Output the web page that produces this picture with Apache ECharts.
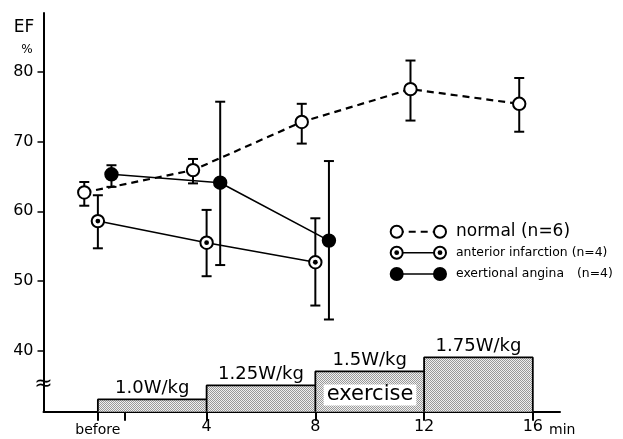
<!DOCTYPE html>
<html><head><meta charset="utf-8">
<script src="https://cdn.jsdelivr.net/npm/echarts@6/dist/echarts.min.js"></script>
<style>html,body{margin:0;padding:0;background:#fff}#c{width:623px;height:439px}</style>
</head><body><div id="c"></div>
<script>
// ---- data ----
const tickValues = [0, 4, 8, 12, 16];
const tickLabels = ['before', '4', '8', '12', '16'];
const minorTicks = [1];
const yTicks = [40, 50, 60, 70, 80];

const normalX = [-0.5, 3.5, 7.5, 11.5, 15.5];
const normalMean = [62.7, 65.9, 72.8, 77.5, 75.4];
const normalLow = [60.8, 64.0, 69.7, 73.0, 71.4];
const normalHigh = [64.2, 67.5, 75.4, 81.6, 79.1];

const anteriorX = [0, 4, 8];
const anteriorMean = [58.6, 55.5, 52.7];
const anteriorLow = [54.7, 50.7, 46.5];
const anteriorHigh = [62.3, 60.2, 59.0];

const anginaX = [0.5, 4.5, 8.5];
const anginaMean = [65.3, 64.1, 55.8];
const anginaLow = [63.5, 52.3, 44.5];
const anginaHigh = [66.6, 75.7, 67.2];

const stageStart = [0, 4, 8, 12];
const stageEnd = [4, 8, 12, 16];
const stagePower = [1.0, 1.25, 1.5, 1.75];
const stageLabels = ['1.0W/kg', '1.25W/kg', '1.5W/kg', '1.75W/kg'];

// ---- build ----
const FONT = 'DejaVu Sans';
const POWER_MIN = 0.78, POWER_MAX = 7.9;

function rows(x, m, lo, hi) { return x.map((v, i) => [v, m[i], lo[i], hi[i]]); }
function pts(x, m) { return x.map((v, i) => [v, m[i]]); }

const stepData = [[stageStart[0], POWER_MIN]];
stageStart.forEach((s, i) => {
  stepData.push([s, stagePower[i]]);
  stepData.push([stageEnd[i], stagePower[i]]);
  stepData.push([stageEnd[i], POWER_MIN]);
});
const stageMid = stageStart.map((s, i) => [(s + stageEnd[i]) / 2, stagePower[i]]);

const pc = document.createElement('canvas');
pc.width = 2; pc.height = 2;
const pctx = pc.getContext('2d');
pctx.fillStyle = '#f0f0f0'; pctx.fillRect(0, 0, 2, 2);
pctx.fillStyle = '#999999'; pctx.fillRect(0, 0, 1, 1); pctx.fillRect(1, 1, 1, 1);

function makeErr(kind) {
  return function (params, api) {
    const x = api.value(0), m = api.value(1), lo = api.value(2), hi = api.value(3);
    const pm = api.coord([x, m]), pl = api.coord([x, lo]), ph = api.coord([x, hi]);
    const cw = 5;
    const st = { stroke: '#000', lineWidth: 2 };
    const ch = [
      { type: 'line', shape: { x1: pl[0], y1: pl[1], x2: ph[0], y2: ph[1] }, style: st },
      { type: 'line', shape: { x1: pl[0] - cw, y1: pl[1], x2: pl[0] + cw, y2: pl[1] }, style: st },
      { type: 'line', shape: { x1: ph[0] - cw, y1: ph[1], x2: ph[0] + cw, y2: ph[1] }, style: st },
      { type: 'circle', shape: { cx: pm[0], cy: pm[1], r: 6.2 }, style: { fill: kind === 'angina' ? '#000' : '#fff', stroke: '#000', lineWidth: 2 } }
    ];
    if (kind === 'anterior') ch.push({ type: 'circle', shape: { cx: pm[0], cy: pm[1], r: 2.4 }, style: { fill: '#000' } });
    return { type: 'group', children: ch };
  };
}

const chart = echarts.init(document.getElementById('c'), null, { renderer: 'canvas' });

function legendRow(y, kind, dashed) {
  const a = 396.7, b = 440;
  const fill = kind === 'angina' ? '#000' : '#fff';
  const els = [
    { type: 'line', shape: { x1: a, y1: y, x2: b, y2: y }, style: { stroke: '#000', lineWidth: dashed ? 2 : 1.5, lineDash: dashed ? [7, 5] : null } },
    { type: 'circle', shape: { cx: a, cy: y, r: 6 }, style: { fill, stroke: '#000', lineWidth: 2 } },
    { type: 'circle', shape: { cx: b, cy: y, r: 6 }, style: { fill, stroke: '#000', lineWidth: 2 } }
  ];
  if (kind === 'anterior') {
    els.push({ type: 'circle', shape: { cx: a, cy: y, r: 2.4 }, style: { fill: '#000' } });
    els.push({ type: 'circle', shape: { cx: b, cy: y, r: 2.4 }, style: { fill: '#000' } });
  }
  return els;
}

const option = {
  animation: false,
  backgroundColor: '#fff',
  grid: { left: 43.5, right: 63, top: 13, bottom: 27.3 },
  xAxis: {
    type: 'value', min: -2, max: 17,
    axisLine: { onZero: false, lineStyle: { color: '#000', width: 2 } },
    splitLine: { show: false },
    axisTick: { customValues: tickValues.concat(minorTicks), length: 9, lineStyle: { color: '#000', width: 2 } },
    axisLabel: {
      customValues: tickValues, margin: 7, color: '#000', fontFamily: FONT, fontSize: 16,
      formatter: v => { const i = tickValues.indexOf(v); return i === 0 ? '{b|' + tickLabels[i] + '}' : tickLabels[i]; },
      rich: { b: { fontSize: 14, fontFamily: FONT, color: '#000', padding: [5, 0, 0, 0] } }
    }
  },
  yAxis: [{
    type: 'value', min: 31.29, max: 88.41,
    axisLine: { show: true, onZero: false, lineStyle: { color: '#000', width: 2 } },
    splitLine: { show: false },
    axisTick: { show: true, customValues: yTicks, length: 6, lineStyle: { color: '#000', width: 1.5 } },
    axisLabel: { customValues: yTicks, margin: 10, color: '#000', fontFamily: FONT, fontSize: 16 }
  }, {
    type: 'value', min: POWER_MIN, max: POWER_MAX, show: false
  }],
  series: [
    {
      type: 'line', yAxisIndex: 1, data: stepData, symbol: 'none', z: 1,
      lineStyle: { color: '#000', width: 1.8 },
      areaStyle: { color: { image: pc, repeat: 'repeat' }, opacity: 1, origin: 'start' }
    },
    {
      type: 'scatter', yAxisIndex: 1, data: stageMid, symbolSize: 0, z: 2,
      itemStyle: { opacity: 1 },
      label: { show: true, position: 'top', distance: 2, color: '#000', opacity: 1, fontFamily: FONT, fontSize: 18,
        formatter: p => stageLabels[p.dataIndex] }
    },
    { type: 'line', data: pts(normalX, normalMean), symbol: 'none', z: 3, lineStyle: { color: '#000', width: 2.2, type: [7, 5] } },
    { type: 'line', data: pts(anteriorX, anteriorMean), symbol: 'none', z: 3, lineStyle: { color: '#000', width: 1.6 } },
    { type: 'line', data: pts(anginaX, anginaMean), symbol: 'none', z: 3, lineStyle: { color: '#000', width: 1.6 } },
    { type: 'custom', data: rows(normalX, normalMean, normalLow, normalHigh), renderItem: makeErr('normal'), z: 4 },
    { type: 'custom', data: rows(anteriorX, anteriorMean, anteriorLow, anteriorHigh), renderItem: makeErr('anterior'), z: 4 },
    { type: 'custom', data: rows(anginaX, anginaMean, anginaLow, anginaHigh), renderItem: makeErr('angina'), z: 4 }
  ],
  graphic: [
    { type: 'text', x: 24, y: 27.5, style: { text: 'EF', fontFamily: FONT, fontSize: 17, fill: '#000', align: 'center', verticalAlign: 'middle' } },
    { type: 'text', x: 27, y: 50, style: { text: '%', fontFamily: FONT, fontSize: 12, fill: '#000', align: 'center', verticalAlign: 'middle' } },
    { type: 'text', x: 43.5, y: 384, z: 10, style: { text: '≈', fontFamily: FONT, fontSize: 22, fill: '#000', align: 'center', verticalAlign: 'middle' } },
    { type: 'text', x: 549, y: 430, style: { text: 'min', fontFamily: FONT, fontSize: 14, fill: '#000', align: 'left', verticalAlign: 'middle' } },
    { type: 'text', x: 370, y: 395, z: 10, style: { text: 'exercise', fontFamily: FONT, fontSize: 21, fill: '#000', align: 'center', verticalAlign: 'middle', backgroundColor: '#fff', padding: [0, 3, 0, 3] } },
    ...legendRow(231.7, 'normal', true),
    ...legendRow(252.7, 'anterior', false),
    ...legendRow(274, 'angina', false),
    { type: 'text', x: 456, y: 231.7, style: { text: 'normal (n=6)', fontFamily: FONT, fontSize: 17, fill: '#000', verticalAlign: 'middle' } },
    { type: 'text', x: 456, y: 252.7, style: { text: 'anterior infarction (n=4)', fontFamily: FONT, fontSize: 12.4, fill: '#000', verticalAlign: 'middle' } },
    { type: 'text', x: 456, y: 274, style: { text: 'exertional angina', fontFamily: FONT, fontSize: 12.4, fill: '#000', verticalAlign: 'middle' } },
    { type: 'text', x: 577, y: 274, style: { text: '(n=4)', fontFamily: FONT, fontSize: 12.4, fill: '#000', verticalAlign: 'middle' } }
  ]
};
chart.setOption(option);
</script></body></html>
